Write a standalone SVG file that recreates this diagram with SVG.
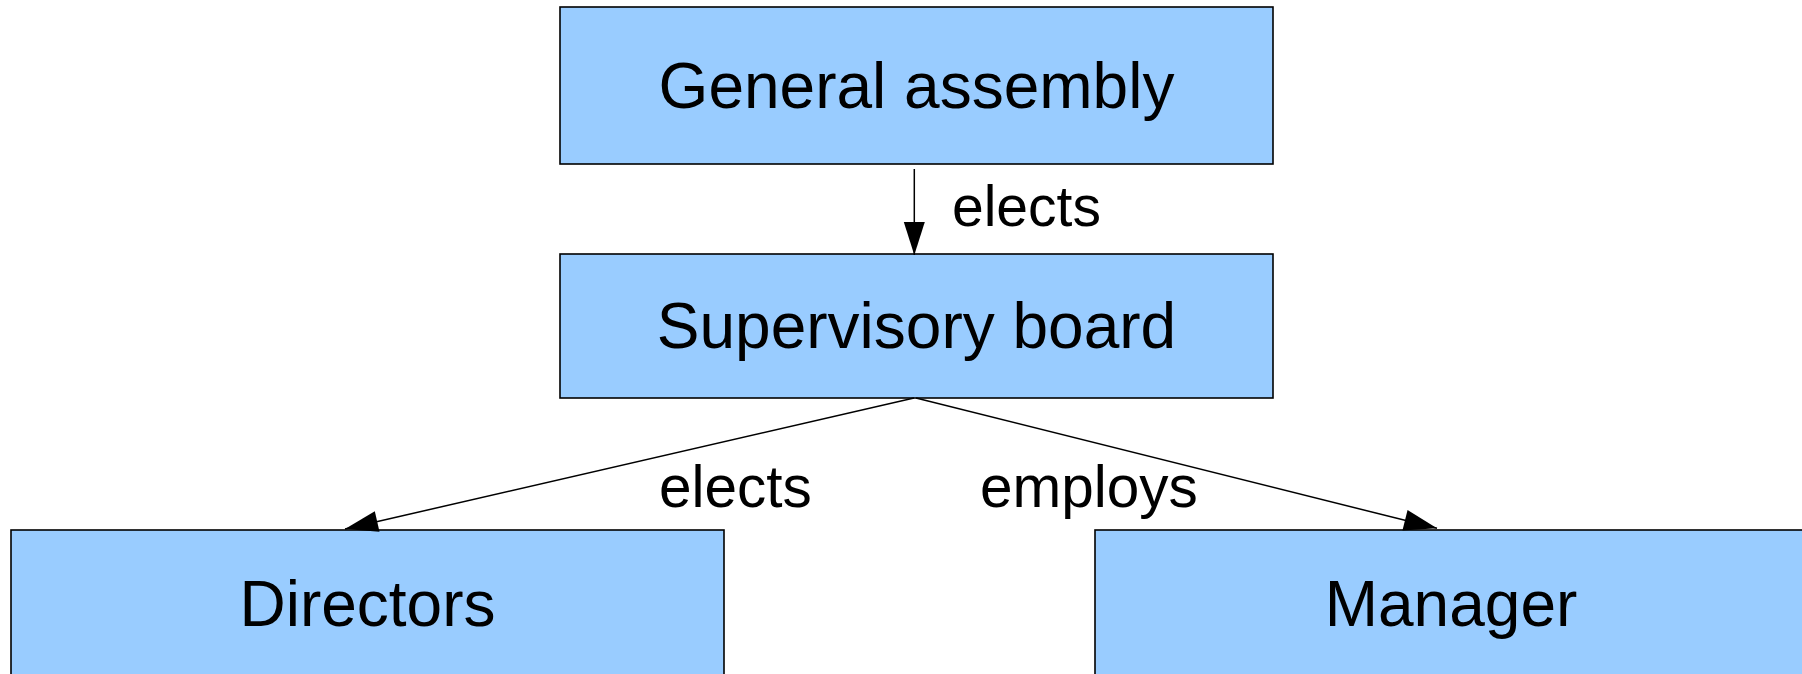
<svg xmlns="http://www.w3.org/2000/svg" width="1802" height="674" viewBox="0 0 1802 674">
<style>
.box{fill:#99ccff;stroke:#000;stroke-width:1.6}
.t{font-family:"Liberation Sans",Arial,sans-serif;font-size:64px;fill:#000;text-anchor:middle}
.l{font-family:"Liberation Sans",Arial,sans-serif;font-size:57px;fill:#000}
.l2{font-family:"Liberation Sans",Arial,sans-serif;font-size:58.5px;fill:#000}
.c{stroke:#000;stroke-width:1.5;fill:none}
</style>
<defs>
<marker id="ah" markerUnits="userSpaceOnUse" markerWidth="34" markerHeight="22" refX="33" refY="10.5" orient="auto" overflow="visible">
<path d="M0,0 L33,10.5 L0,21 z" fill="#000"/>
</marker>
</defs>
<rect width="1802" height="674" fill="#fff"/>
<g id="general-assembly">
<rect class="box" x="560" y="7" width="713" height="157"/>
<text class="t" x="916.5" y="108">General assembly</text>
</g>
<g id="supervisory-board">
<rect class="box" x="560" y="254" width="713" height="144"/>
<text class="t" x="916.5" y="348">Supervisory board</text>
</g>
<g id="directors">
<rect class="box" x="11" y="530" width="713" height="160"/>
<text class="t" x="367.5" y="626">Directors</text>
</g>
<g id="manager">
<rect class="box" x="1095" y="530" width="713" height="160"/>
<text class="t" x="1451" y="626">Manager</text>
</g>
<g id="connectors">
<line class="c" x1="914.3" y1="169" x2="914.3" y2="255" marker-end="url(#ah)"/>
<line class="c" x1="914" y1="398" x2="345" y2="529" marker-end="url(#ah)"/>
<line class="c" x1="916" y1="398" x2="1437" y2="528.3" marker-end="url(#ah)"/>
<text class="l" x="952" y="226">elects</text>
<text class="l2" x="659" y="507">elects</text>
<text class="l2" x="980" y="507">employs</text>
</g>
</svg>
